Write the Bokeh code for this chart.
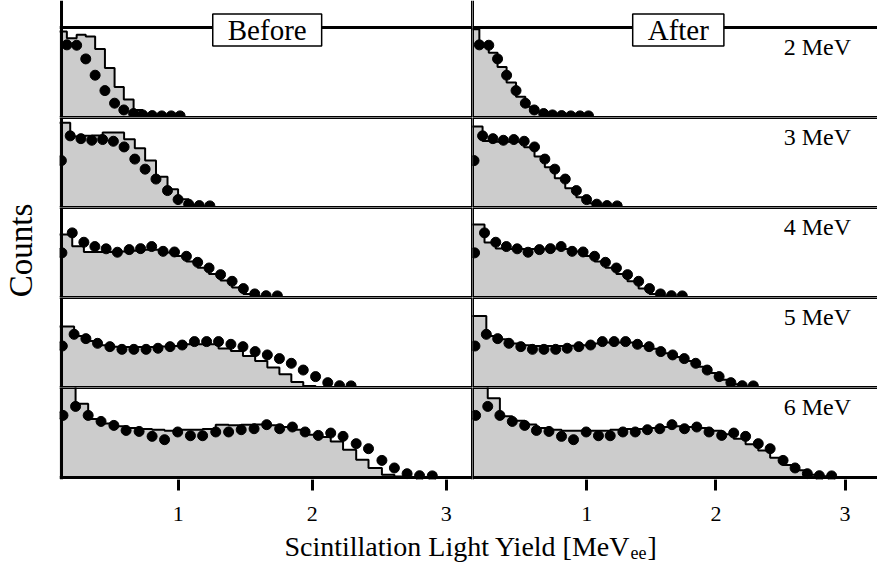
import math
from bokeh.plotting import figure
from bokeh.models import Range1d, Span, Label, GridBox, BoxAnnotation
from bokeh.embed import file_html
from bokeh.resources import INLINE

# ---------------- data ----------------
energy_labels = ["2 MeV", "3 MeV", "4 MeV", "5 MeV", "6 MeV"]
column_titles = ["Before", "After"]
x_ticks = [1, 2, 3]

# light-yield bin positions (MeVee) of the measured points, one list per energy
x_2 = [0.169, 0.242, 0.310, 0.380, 0.453, 0.525, 0.594, 0.667, 0.735, 0.806, 0.877, 0.948, 1.014]
x_3 = [0.128, 0.194, 0.274, 0.355, 0.436, 0.516, 0.596, 0.676, 0.753, 0.834, 0.920, 0.999, 1.078, 1.157, 1.236]
x_4 = [0.132, 0.209, 0.296, 0.378, 0.462, 0.546, 0.634, 0.719, 0.802, 0.887, 0.972, 1.061, 1.145, 1.230,
       1.316, 1.402, 1.486, 1.571, 1.656, 1.740]
x_5 = [0.135, 0.223, 0.311, 0.398, 0.490, 0.580, 0.669, 0.760, 0.849, 0.939, 1.030, 1.121, 1.212, 1.301,
       1.393, 1.483, 1.574, 1.665, 1.755, 1.844, 1.933, 2.025, 2.116, 2.204, 2.290]
x_6 = [0.140, 0.234, 0.328, 0.424, 0.520, 0.611, 0.708, 0.805, 0.898, 0.996, 1.091, 1.182, 1.280, 1.376,
       1.470, 1.566, 1.660, 1.757, 1.852, 1.947, 2.045, 2.138, 2.230, 2.328, 2.420, 2.520, 2.613, 2.708,
       2.801, 2.896]

# measured counts (normalised), same data in both columns
data_2 = [0.807, 0.803, 0.651, 0.470, 0.299, 0.159, 0.084, 0.044, 0.029, 0.021, 0.018, 0.018, 0.018]
data_3 = [0.521, 0.796, 0.765, 0.747, 0.755, 0.736, 0.673, 0.538, 0.426, 0.316, 0.188, 0.088, 0.037, 0.021, 0.018]
data_4 = [0.496, 0.718, 0.614, 0.566, 0.541, 0.503, 0.532, 0.543, 0.566, 0.513, 0.506, 0.458, 0.391, 0.328,
          0.254, 0.180, 0.099, 0.040, 0.020, 0.018]
data_5 = [0.461, 0.591, 0.543, 0.491, 0.454, 0.424, 0.424, 0.424, 0.436, 0.454, 0.472, 0.510, 0.510, 0.510,
          0.480, 0.454, 0.399, 0.362, 0.321, 0.269, 0.194, 0.121, 0.054, 0.020, 0.018]
data_6 = [0.690, 0.790, 0.690, 0.623, 0.579, 0.523, 0.512, 0.457, 0.420, 0.506, 0.464, 0.464, 0.506, 0.506,
          0.531, 0.542, 0.587, 0.542, 0.561, 0.506, 0.468, 0.494, 0.457, 0.376, 0.320, 0.190, 0.106, 0.042,
          0.020, 0.018]

# simulated histogram levels: first value = level left of the first point,
# then the level held from each point to the next one
sim_before_2 = [0.955, 0.88, 0.92, 0.90, 0.76, 0.55, 0.34, 0.20, 0.084, 0.03, 0.012, 0.006, 0.004, 0.002]
sim_after_2 = [0.98, 0.80, 0.72, 0.56, 0.39, 0.23, 0.12, 0.06, 0.035, 0.02, 0.015, 0.01, 0.01, 0.005]
sim_before_3 = [0.943, 0.943, 0.788, 0.796, 0.80, 0.832, 0.832, 0.759, 0.659, 0.521, 0.343, 0.203, 0.092,
                0.029, 0.01, 0.005]
sim_after_3 = [0.899, 0.899, 0.74, 0.73, 0.73, 0.73, 0.67, 0.566, 0.448, 0.326, 0.214, 0.114, 0.048, 0.02,
               0.01, 0.005]
sim_before_4 = [0.699, 0.699, 0.57, 0.506, 0.506, 0.506, 0.51, 0.52, 0.53, 0.53, 0.50, 0.46, 0.40, 0.33,
                0.26, 0.19, 0.11, 0.04, 0.015, 0.005, 0.0]
sim_after_4 = [0.81, 0.81, 0.61, 0.545, 0.54, 0.54, 0.54, 0.54, 0.545, 0.54, 0.51, 0.46, 0.40, 0.33, 0.26,
               0.18, 0.10, 0.04, 0.015, 0.005, 0.0]
sim_before_5 = [0.677, 0.677, 0.573, 0.517, 0.469, 0.454, 0.45, 0.45, 0.45, 0.455, 0.46, 0.48, 0.48, 0.48,
                0.432, 0.406, 0.35, 0.295, 0.221, 0.147, 0.061, 0.017, 0.005, 0.0, 0.0, 0.0]
sim_after_5 = [0.794, 0.794, 0.572, 0.536, 0.49, 0.47, 0.46, 0.46, 0.46, 0.465, 0.47, 0.49, 0.50, 0.50,
               0.50, 0.46, 0.43, 0.38, 0.34, 0.295, 0.23, 0.16, 0.085, 0.035, 0.012, 0.0]
sim_before_6 = [1.02, 1.02, 0.82, 0.65, 0.60, 0.57, 0.55, 0.54, 0.53, 0.52, 0.53, 0.53, 0.54, 0.587, 0.58,
                0.585, 0.59, 0.58, 0.56, 0.53, 0.476, 0.45, 0.401, 0.309, 0.198, 0.105, 0.031, 0.01, 0.0,
                0.0, 0.0]
sim_after_6 = [1.02, 1.02, 0.88, 0.68, 0.63, 0.59, 0.55, 0.53, 0.52, 0.52, 0.52, 0.52, 0.53, 0.54, 0.54,
               0.55, 0.56, 0.57, 0.56, 0.55, 0.52, 0.48, 0.43, 0.37, 0.30, 0.22, 0.14, 0.08, 0.03, 0.015,
               0.005]

xs_all = [x_2, x_3, x_4, x_5, x_6]
data_all = [data_2, data_3, data_4, data_5, data_6]
sim_all = [[sim_before_2, sim_before_3, sim_before_4, sim_before_5, sim_before_6],
           [sim_after_2, sim_after_3, sim_after_4, sim_after_5, sim_after_6]]

# ---------------- styling / layout ----------------
FONT = "Liberation Serif"
GRAY = "#cccccc"
X_START = [0.129, 0.116]               # left edge of each column's axes
X_RANGES = [(0.114, 3.196), (0.116, 3.251)]
COL_W = [59, 413, 405]
TOP_B, FRAME_H, EXT_B, BOT_B = 27, 90, 2, 52
GRID_H = TOP_B + 5 * FRAME_H + EXT_B + BOT_B          # 531
XLAB_H = 562 - GRID_H                                 # 31
TITLE_X = [1.664, 1.709]
LW = 3


def make_panel(col, row):
    xs = xs_all[row]
    dots = data_all[row]
    sim = sim_all[col][row]
    top = row == 0
    bottom = row == 4
    h = FRAME_H + (TOP_B if top else 0) + ((EXT_B + BOT_B) if bottom else 0)
    y_end = 1 + TOP_B / FRAME_H if top else 1
    y_start = -EXT_B / FRAME_H if bottom else 0
    p = figure(width=COL_W[col + 1], height=h,
               x_range=Range1d(*X_RANGES[col]), y_range=Range1d(y_start, y_end),
               x_axis_type="linear" if bottom else None, y_axis_type=None,
               toolbar_location=None, output_backend="svg",
               min_border_left=0, min_border_right=0, min_border_top=0,
               min_border_bottom=BOT_B if bottom else 0)
    p.outline_line_color = None
    p.grid.visible = False

    step_x = [0.0] + xs + [xs[-1] + (xs[-1] - xs[-2])]
    step_y = sim + [0.0]
    p.varea_step(x=step_x, y1=[0.0] * len(step_x), y2=step_y, step_mode="after",
                 fill_color=GRAY)
    p.step(x=step_x, y=step_y, mode="after", line_color="black", line_width=2)
    p.scatter(x=xs, y=dots, size=10, fill_color="black", line_color="black")

    # white covers outside the axes box (inside the extended frame)
    if col == 0:
        p.add_layout(BoxAnnotation(right=X_START[0], fill_color="white", fill_alpha=1.0,
                                   line_color=None))
    if top:
        p.add_layout(BoxAnnotation(bottom=1, fill_color="white", fill_alpha=1.0, line_color=None))
    if bottom:
        p.add_layout(BoxAnnotation(top=0, fill_color="white", fill_alpha=1.0, line_color=None))

    # axes box borders
    p.add_layout(Span(location=1, dimension="width", line_color="black", line_width=LW))
    p.add_layout(Span(location=0, dimension="width", line_color="black", line_width=LW))
    p.add_layout(Span(location=X_START[col], dimension="height", line_color="black", line_width=LW))
    if col == 0:
        p.add_layout(Span(location=X_RANGES[0][1], dimension="height", line_color="black", line_width=LW))

    if bottom:
        ax = p.xaxis[0]
        ax.ticker = x_ticks
        ax.minor_tick_line_color = None
        ax.major_tick_in = 0
        ax.major_tick_out = 11
        ax.major_tick_line_width = 3
        ax.major_tick_line_color = "black"
        ax.axis_line_color = None
        ax.major_label_text_font = FONT
        ax.major_label_text_font_size = "22px"
        ax.major_label_text_color = "black"
        ax.major_label_standoff = 16

    if top:
        p.add_layout(Label(x=TITLE_X[col], y=(FRAME_H + TOP_B - 29.5) / FRAME_H,
                           text=column_titles[col],
                           text_align="center", text_baseline="middle",
                           text_font=FONT, text_font_size="29px", text_color="black",
                           background_fill_color="white", border_line_color="black",
                           border_line_width=1.5, padding=(15, 15, 0, 0)))
    if col == 1:
        p.add_layout(Label(x=3.046, y=0.783, text=energy_labels[row],
                           text_align="right", text_baseline="middle",
                           text_font=FONT, text_font_size="24px", text_color="black"))
    return p


children = []
for row in range(5):
    for col in range(2):
        children.append((make_panel(col, row), row, col + 1))

# y-axis title.  The grid aligns this plot's frame with the panel frames
# (page y 0 .. 479), so y is given as a fraction of that span.
ylab = figure(width=COL_W[0], height=GRID_H, x_range=Range1d(0, COL_W[0]), y_range=Range1d(0, 1),
              x_axis_type=None, y_axis_type=None, toolbar_location=None, output_backend="svg",
              min_border_left=0, min_border_right=0, min_border_top=0, min_border_bottom=0)
ylab.outline_line_color = None
ylab.add_layout(Label(x=20, y=(479 - 250) / 479, text="Counts", angle=math.pi / 2,
                      text_align="center", text_baseline="middle",
                      text_font=FONT, text_font_size="33px", text_color="black"))
children.append((ylab, 0, 0, 5, 1))

# x-axis title
total_w = sum(COL_W)
xlab = figure(width=total_w, height=XLAB_H, x_range=Range1d(0, total_w), y_range=Range1d(0, XLAB_H),
              x_axis_type=None, y_axis_type=None, toolbar_location=None, output_backend="svg",
              min_border_left=0, min_border_right=0, min_border_top=0, min_border_bottom=0)
xlab.outline_line_color = None
xlab.add_layout(Label(x=630, y=15.6, text="Scintillation Light Yield [MeV", text_align="right",
                      text_baseline="middle", text_font=FONT, text_font_size="28px",
                      text_color="black"))
xlab.add_layout(Label(x=630, y=10.0, text="ee", text_align="left",
                      text_baseline="middle", text_font=FONT, text_font_size="18px",
                      text_color="black"))
xlab.add_layout(Label(x=647, y=15.6, text="]", text_align="left",
                      text_baseline="middle", text_font=FONT, text_font_size="28px",
                      text_color="black"))
children.append((xlab, 5, 0, 1, 3))

layout = GridBox(children=children, spacing=0)

open("out.html", "w").write(file_html(layout, INLINE))
